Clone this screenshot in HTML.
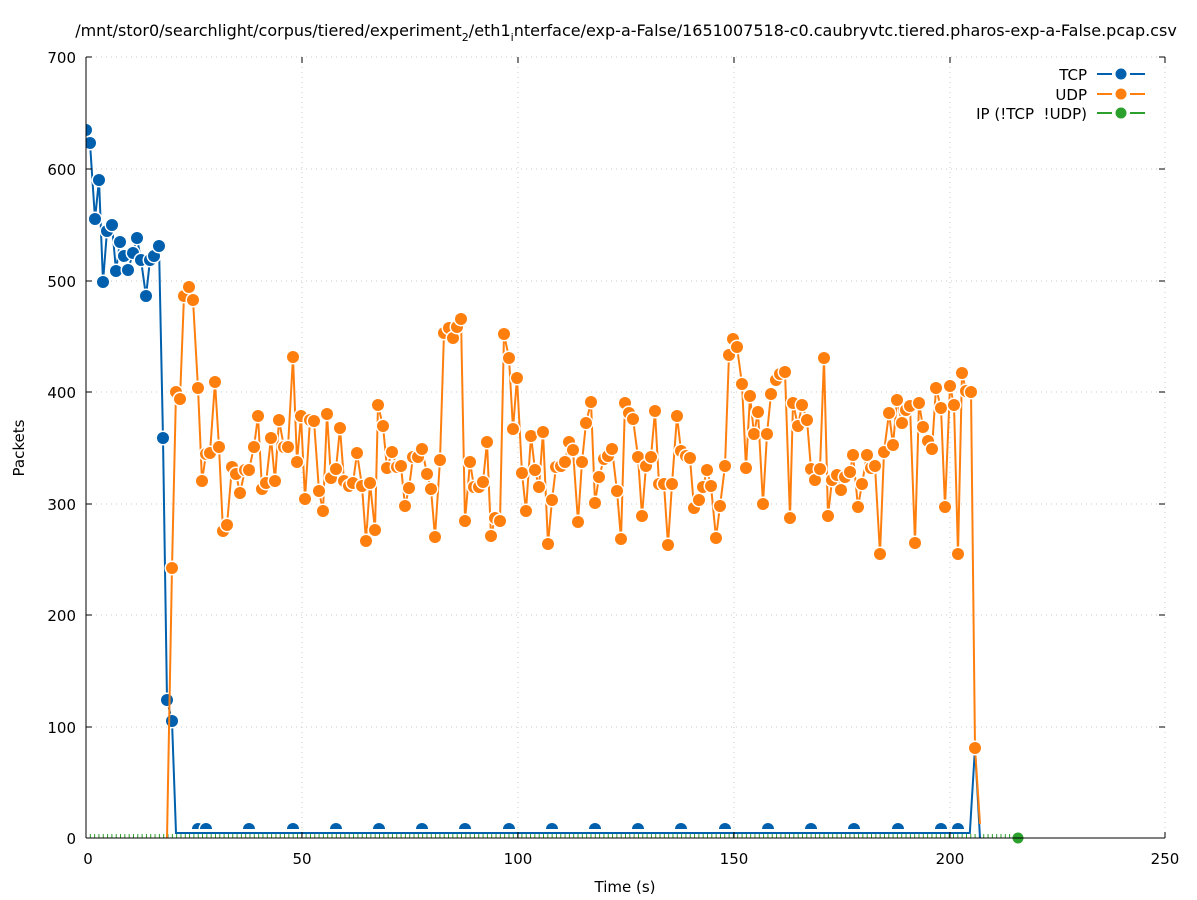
<!DOCTYPE html>
<html><head><meta charset="utf-8"><style>
html,body{margin:0;background:#fff;overflow:hidden;width:1197px;height:900px}
svg{display:block;font-family:"DejaVu Sans","Liberation Sans",sans-serif}
</style></head><body>
<svg id="s" width="1197" height="900" xmlns="http://www.w3.org/2000/svg">
<defs>
<clipPath id="pc"><rect x="86" y="57" width="1079" height="781"/></clipPath>
<clipPath id="bc"><rect x="86" y="57" width="1079" height="772"/></clipPath>
</defs>
<rect width="1197" height="900" fill="#fff"/>
<g stroke="#c8c8c8" stroke-dasharray="1,4" stroke-width="1">
<line x1="302" y1="57" x2="302" y2="838"/><line x1="518" y1="57" x2="518" y2="838"/>
<line x1="734" y1="57" x2="734" y2="838"/><line x1="950" y1="57" x2="950" y2="838"/><line x1="1165" y1="57" x2="1165" y2="838"/>
<line x1="86" y1="727" x2="1165" y2="727"/><line x1="86" y1="615" x2="1165" y2="615"/>
<line x1="86" y1="504" x2="1165" y2="504"/><line x1="86" y1="392" x2="1165" y2="392"/>
<line x1="86" y1="281" x2="1165" y2="281"/><line x1="86" y1="169" x2="1165" y2="169"/><line x1="86" y1="57" x2="1165" y2="57"/>
</g>
<g id="plot"></g>
<g stroke="#000" stroke-width="1">
<line x1="86" y1="57" x2="86" y2="838"/><line x1="86" y1="838" x2="1165" y2="838"/>
<line x1="86" y1="838" x2="86" y2="832"/><line x1="302" y1="838" x2="302" y2="832"/><line x1="518" y1="838" x2="518" y2="832"/><line x1="734" y1="838" x2="734" y2="832"/><line x1="950" y1="838" x2="950" y2="832"/><line x1="1165" y1="838" x2="1165" y2="832"/>
<line x1="302" y1="57" x2="302" y2="63"/><line x1="518" y1="57" x2="518" y2="63"/><line x1="734" y1="57" x2="734" y2="63"/><line x1="950" y1="57" x2="950" y2="63"/><line x1="1165" y1="57" x2="1165" y2="63"/>
<line x1="86" y1="727" x2="92" y2="727"/><line x1="86" y1="615" x2="92" y2="615"/><line x1="86" y1="504" x2="92" y2="504"/><line x1="86" y1="392" x2="92" y2="392"/><line x1="86" y1="281" x2="92" y2="281"/><line x1="86" y1="169" x2="92" y2="169"/><line x1="86" y1="57" x2="92" y2="57"/>
<line x1="1165" y1="727" x2="1159" y2="727"/><line x1="1165" y1="615" x2="1159" y2="615"/><line x1="1165" y1="504" x2="1159" y2="504"/><line x1="1165" y1="392" x2="1159" y2="392"/><line x1="1165" y1="281" x2="1159" y2="281"/><line x1="1165" y1="169" x2="1159" y2="169"/><line x1="1165" y1="57" x2="1159" y2="57"/>
</g>
<g font-size="15" fill="#000" text-anchor="end">
<text x="76" y="844">0</text><text x="76" y="733">100</text><text x="76" y="621">200</text><text x="76" y="510">300</text><text x="76" y="398">400</text><text x="76" y="287">500</text><text x="76" y="175">600</text><text x="76" y="63">700</text>
</g>
<g font-size="15" fill="#000" text-anchor="middle">
<text x="88" y="864">0</text><text x="302" y="864">50</text><text x="518" y="864">100</text><text x="734" y="864">150</text><text x="950" y="864">200</text><text x="1165" y="864">250</text>
<text x="625" y="892">Time (s)</text>
<text x="626" y="36" font-size="16">/mnt/stor0/searchlight/corpus/tiered/experiment<tspan font-size="11" dy="5">2</tspan><tspan dy="-5">/eth1</tspan><tspan font-size="11" dy="5">i</tspan><tspan dy="-5">nterface/exp-a-False/1651007518-c0.caubryvtc.tiered.pharos-exp-a-False.pcap.csv</tspan></text>
<text transform="translate(24,448) rotate(-90)">Packets</text>
</g>
<g font-size="15" fill="#000" text-anchor="end">
<text x="1087" y="80">TCP</text><text x="1087" y="100">UDP</text><text x="1087" y="119" xml:space="preserve">IP (!TCP  !UDP)</text>
</g>
<g stroke-width="2">
<line x1="1097" y1="74" x2="1112" y2="74" stroke="#0060ad"/><line x1="1130" y1="74" x2="1145" y2="74" stroke="#0060ad"/><circle cx="1121" cy="74" r="5.5" fill="#0060ad"/>
<line x1="1097" y1="94" x2="1112" y2="94" stroke="#ff7f0e"/><line x1="1130" y1="94" x2="1145" y2="94" stroke="#ff7f0e"/><circle cx="1121" cy="94" r="5.5" fill="#ff7f0e"/>
<line x1="1097" y1="113" x2="1112" y2="113" stroke="#2ca02c"/><line x1="1130" y1="113" x2="1145" y2="113" stroke="#2ca02c"/><circle cx="1121" cy="113" r="5.5" fill="#2ca02c"/>
</g>
<script>
var NS="http://www.w3.org/2000/svg",P=document.getElementById("plot");
function el(t,a,par){var e=document.createElementNS(NS,t);for(var k in a)e.setAttribute(k,a[k]);(par||P).appendChild(e);return e;}
function series(pts,col){
 var g=el("g",{"clip-path":"url(#pc)"});
 el("polyline",{points:pts.map(function(p){return p[0]+","+p[1]}).join(" "),fill:"none",stroke:col,"stroke-width":2},g);
 pts.forEach(function(p){if(p[2])return;el("circle",{cx:p[0],cy:p[1],r:7.5,fill:"#fff"},g);el("circle",{cx:p[0],cy:p[1],r:6,fill:col},g);});
}
var gg=el("g",{stroke:"#2ca02c","stroke-width":1});
for(var x=86;x<1020;x+=4.316){el("line",{x1:x,y1:834,x2:x,y2:838},gg);}
var tcp=[[86,130],[90,143],[95,219],[99,180],[103,282],[107,231],[112,225],[116,271],[120,242],[124,256],[128,270],[133,253],[137,238],[141,260],[146,296],[150,260],[154,256],[159,246],[163,438],[167,700],[172,721],[176,833,1]];
for(var x=180;x<972;x+=4.316)tcp.push([x,833,1]);
tcp.push([975,748,1],[980,838,1]);
series(tcp,"#0060ad");
var bg=el("g",{"clip-path":"url(#bc)"});
[198,206,249,293,336,379,422,465,509,552,595,638,681,725,768,811,854,898,941,958].forEach(function(x){el("circle",{cx:x,cy:829,r:7.5,fill:"#fff"},bg);el("circle",{cx:x,cy:829,r:6,fill:"#0060ad"},bg);});
var u=[[167,838,1],[172,568],[176,392],[180,399],[184,296],[189,287],[193,300],[198,388],[202,481],[206,454],[210,453],[215,382],[219,447],[223,531],[227,525],[232,467],[236,474],[240,493],[245,470],[249,470],[254,447],[258,416],[262,489],[266,483],[271,438],[275,481],[279,420],[284,447],[288,447],[293,357],[297,462],[301,416],[305,499],[310,420],[314,421],[319,491],[323,511],[327,414],[331,478],[336,469],[340,428],[344,481],[349,486],[353,483],[357,453],[362,486],[366,541],[370,483],[375,530],[378,405],[383,426],[387,468],[392,452],[397,467],[401,466],[405,506],[409,488],[413,457],[418,457],[422,449],[427,474],[431,489],[435,537],[440,460],[444,333],[449,328],[453,338],[457,327],[461,319],[465,521],[470,462],[474,487],[479,487],[483,482],[487,442],[491,536],[495,518],[500,521],[504,334],[509,358],[513,429],[517,378],[522,473],[526,511],[531,436],[535,470],[539,487],[543,432],[548,544],[552,500],[556,467],[561,466],[565,462],[569,442],[573,450],[578,522],[582,462],[586,423],[591,402],[595,503],[599,477],[604,459],[608,456],[612,449],[617,491],[621,539],[625,403],[629,413],[633,419],[638,457],[642,516],[646,466],[651,457],[655,411],[659,484],[664,484],[668,545],[672,484],[677,416],[681,451],[686,456],[690,458],[694,508],[699,500],[703,487],[707,470],[711,486],[716,538],[720,506],[725,466],[729,355],[733,339],[737,347],[742,384],[746,468],[750,396],[754,434],[758,412],[763,504],[767,434],[771,394],[776,380],[780,374],[785,372],[790,518],[793,403],[798,426],[802,405],[807,420],[811,469],[815,480],[820,469],[824,358],[828,516],[832,480],[837,475],[841,490],[845,477],[850,472],[853,455],[858,507],[862,484],[867,455],[871,468],[875,466],[880,554],[884,452],[889,413],[893,445],[897,400],[902,423],[906,410],[910,406],[915,543],[919,403],[923,427],[928,441],[932,449],[936,388],[941,408],[945,507],[950,386],[954,405],[958,554],[962,373],[966,391],[971,392],[975,748],[980,824,1]];
series(u,"#ff7f0e");
el("circle",{cx:1018,cy:838,r:7,fill:"#fff"});el("circle",{cx:1018,cy:838,r:5.5,fill:"#2ca02c"});
</script>
</svg>
</body></html>
